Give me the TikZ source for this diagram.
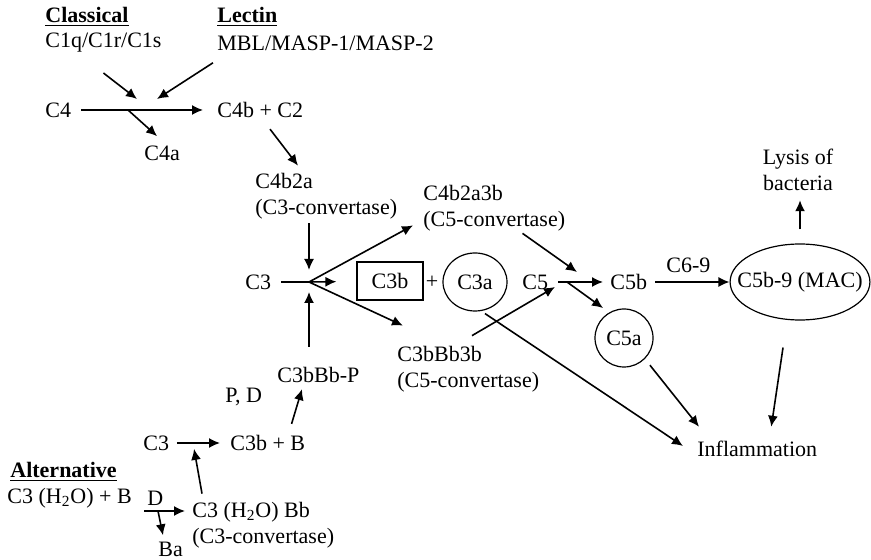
\documentclass[tikz,border=0pt]{standalone}
\usepackage{fontspec}
\setmainfont{Liberation Serif}
\usetikzlibrary{arrows.meta,shapes.geometric}
\begin{document}
\begin{tikzpicture}[x=0.5pt,y=-0.5pt,
	every node/.style={font=\fontsize{11}{13}\selectfont},
	txt/.style={inner sep=0pt,anchor=west},
	two/.style={txt,align=left},
	head/.style={txt,font=\fontsize{11}{13}\selectfont\bfseries},
	arr/.style={-{Latex[length=5.5pt,width=5pt]},line width=0.8pt},
	ln/.style={line width=0.8pt},
	blob/.style={draw,ellipse,line width=0.6pt,inner sep=0pt}]
	\useasboundingbox (0,0) rectangle (871,560);
	% pathway headings
	\node[head] (classical) at (45,17) {\underline{Classical}};
	\node[txt] (cpath) at (45,43) {C1q/C1r/C1s};
	\node[head] (lectin) at (217,17) {\underline{Lectin}};
	\node[txt] (lpath) at (217,43) {MBL/MASP-1/MASP-2};
	\node[head] (alternative) at (10,472) {\underline{Alternative}};
	% classical and lectin
	\node[txt] (c4) at (45,110) {C4};
	\node[txt] (c4bc2) at (217,110) {C4b + C2};
	\node[txt] (c4a) at (144,153) {C4a};
	\node[two] (c4b2a) at (255,196) {C4b2a\\(C3-convertase)};
	\node[txt] (c3) at (245,282) {C3};
	\node[draw,line width=0.6pt,inner sep=0pt,minimum width=33pt,minimum height=19pt] (c3b) at (390,281) {C3b};
	\node (plus) at (432,282) {+};
	\node[blob,minimum width=32pt,minimum height=29pt] (c3a) at (475,282) {C3a};
	\node[two] (c4b2a3b) at (423,208) {C4b2a3b\\(C5-convertase)};
	\node[two] (c3bbb3b) at (397,369) {C3bBb3b\\(C5-convertase)};
	\node[txt] (c5) at (522,282) {C5};
	\node[txt] (c5b) at (610,282) {C5b};
	\node[blob,circle,minimum size=29pt] (c5a) at (624,338) {C5a};
	\node[blob,inner xsep=-6.6pt,minimum height=38pt] (mac) at (800,282) {C5b-9 (MAC)};
	\node[align=center,inner sep=0pt] (lysis) at (798,170) {Lysis of\\bacteria};
	\node[txt] (inflam) at (697,449) {Inflammation};
	% alternative
	\node[txt] (c3bbbp) at (277,375) {C3bBb-P};
	\node[txt] (pd) at (225,397) {P, D};
	\node[txt] (c3alt) at (143,443) {C3};
	\node[txt] (c3bb) at (230,443) {C3b + B};
	\node[txt] (c3h2o) at (7,498) {C3 (H\textsubscript{2}O) + B};
	\node[txt] (d) at (147,498) {D};
	\node[two] (c3h2obb) at (192,525) {C3 (H\textsubscript{2}O) Bb\\(C3-convertase)};
	\node[txt] (ba) at (158,549) {Ba};
	% junctions
	\coordinate (kcl) at (137,99);
	\coordinate (klc) at (157,99);
	\coordinate (jc4) at (128,110);
	\coordinate (jc3) at (309,282);
	\coordinate (jc5) at (567,282);
	\coordinate (jalt) at (193,443);
	\coordinate (jba) at (158,511);
	% connectors
	\draw[arr] ([shift={(0,20)}]cpath.south) -- (kcl);
	\draw[arr] ([shift={(-4,12)}]lpath.south west) -- (klc);
	\draw[arr,shorten <=5pt,shorten >=7pt] (c4) -- (c4bc2);
	\draw[arr] (jc4) -- ([shift={(-5,-9)}]c4a.north);
	\draw[arr] ([shift={(53,11)}]c4bc2.south west) -- ([shift={(43,-7)}]c4b2a.north west);
	\draw[arr,shorten <=2pt,shorten >=6pt] (c4b2a.south -| jc3) -- (jc3);
	\draw[ln,shorten <=5pt] (c3) -- (jc3);
	\draw[arr,shorten >=10pt] (jc3) -- (c3b);
	\draw[arr] (jc3) -- ([shift={(-10,-6)}]c4b2a3b.south west);
	\draw[arr] (jc3) -- ([shift={(6,-20)}]c3bbb3b.north west);
	\draw[arr,shorten <=10pt,shorten >=5pt] (c3bbbp.north -| jc3) -- (jc3);
	\draw[arr] ([shift={(-14,-11)}]c3bb.north east) -- ([shift={(25,6)}]c3bbbp.south west);
	\draw[arr,shorten <=3.75pt,shorten >=5pt] (c3alt) -- (c3bb);
	\draw[arr,shorten >=3pt] ([shift={(10,-8)}]c3h2obb.north west) -- (jalt);
	\draw[arr,shorten <=6pt,shorten >=3.5pt] (c3h2o.east |- jba) -- (c3h2obb.west |- jba);
	\draw[arr] (jba) -- ([shift={(5,-6)}]ba.north west);
	\draw[arr] ([shift={(-43,2)}]c4b2a3b.south east) -- ([shift={(10,-10)}]jc5);
	\draw[arr] ([shift={(75,-10)}]c3bbb3b.north west) -- ([shift={(-12,5)}]jc5);
	\draw[arr,shorten <=5pt,shorten >=3.5pt] (c5) -- (c5b);
	\draw[arr] (jc5) -- ([shift={(0,-9)}]c5a.north west);
	\draw[arr,shorten <=4pt] (c5b) -- node[above=1pt] (c69) {C6-9} (mac);
	\draw[arr,shorten <=7pt,shorten >=4.5pt] (mac.north) -- (mac.north |- lysis.south);
	\draw[arr,shorten <=4pt] (c5a.south east) -- ([shift={(2,-14)}]inflam.north west);
	\draw[arr] ([shift={(-17,27)}]mac.south) -- ([shift={(14,-14)}]inflam.north);
	\draw[arr] ([shift={(10,2)}]c3a.south) -- ([shift={(-14,-3)}]inflam.west);
\end{tikzpicture}
\end{document}
